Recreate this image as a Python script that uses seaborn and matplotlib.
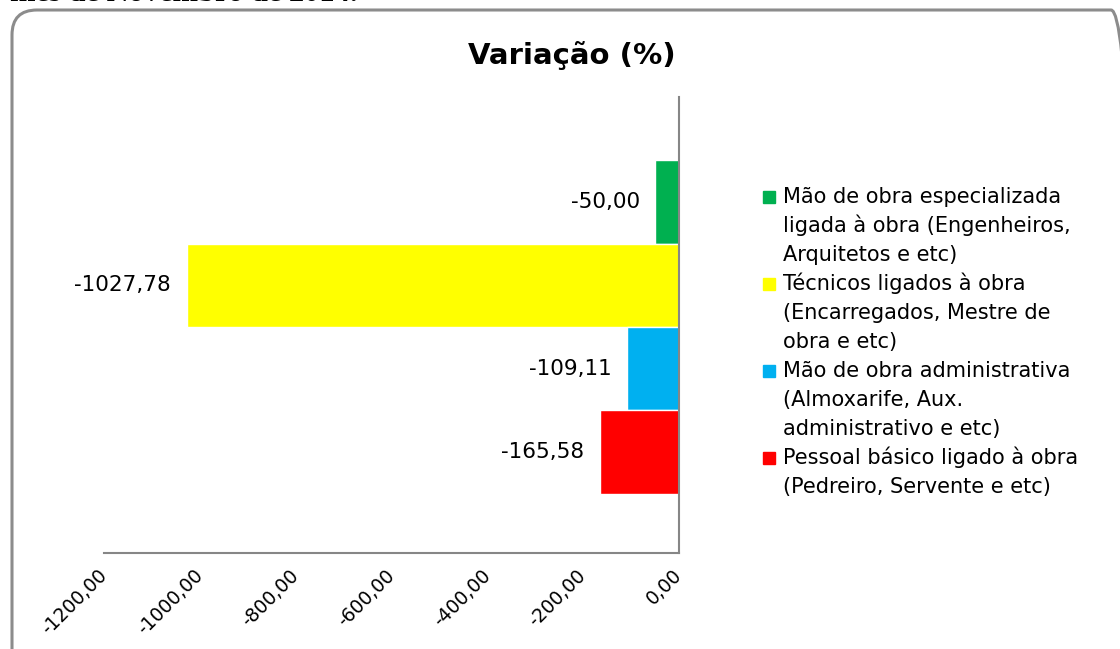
import numpy as np
import pandas as pd
import matplotlib
matplotlib.use("Agg")
import matplotlib.pyplot as plt
import seaborn as sns
from matplotlib.patches import FancyBboxPatch, Rectangle

# ------------------------------------------------------------------
# DATA
# ------------------------------------------------------------------
categories = [
    "Mão de obra especializada\nligada à obra (Engenheiros,\nArquitetos e etc)",
    "Técnicos ligados à obra\n(Encarregados, Mestre de\nobra e etc)",
    "Mão de obra administrativa\n(Almoxarife, Aux.\nadministrativo e etc)",
    "Pessoal básico ligado à obra\n(Pedreiro, Servente e etc)",
]
values = [-50.00, -1027.78, -109.11, -165.58]
colors = ["#00B050", "#FFFF00", "#00B0F0", "#FF0000"]
x_ticks = [-1200, -1000, -800, -600, -400, -200, 0]
title = "Variação (%)"
header_text = "mês de Novembro de 2014."

df = pd.DataFrame({"categoria": categories, "variacao": values})

sns.set_theme(style="white")
plt.rcParams["font.family"] = ["DejaVu Sans"]

fig = plt.figure(figsize=(11.2, 6.49), dpi=100)
W, H = 1120, 649

# rounded outer frame (chart area border), in inches so corners stay round
frame = FancyBboxPatch((0.12, -1.0), 11.24, 6.39 + 1.0,
                       boxstyle="round,pad=0,rounding_size=0.25",
                       transform=fig.dpi_scale_trans, fill=False,
                       edgecolor="#8c8c8c", linewidth=2.2)
fig.patches.append(frame)

# clipped text from the page above the chart
fig.text(10 / W, 1 - 1 / H, header_text, family="Liberation Serif",
         fontsize=22, fontweight="bold", ha="left", va="baseline", color="black")

ax = fig.add_axes([104 / W, 96 / H, 575 / W, 456 / H])
sns.barplot(data=df, y="categoria", x="variacao", hue="categoria",
            palette=colors, orient="h", width=1.0, legend=False, ax=ax,
            saturation=1)

ax.set_xlim(-1200, 0)
ax.set_ylim(4.207, -1.255)
ax.set_xticks(x_ticks)
ax.set_xticklabels([f"{t:.2f}".replace(".", ",") for t in x_ticks],
                   rotation=45, ha="right", va="center", rotation_mode="anchor",
                   fontsize=13.5)
ax.tick_params(axis="x", length=0, pad=14, colors="black")
ax.set_yticks([])
ax.set_xlabel("")
ax.set_ylabel("")
for side in ["top", "left"]:
    ax.spines[side].set_visible(False)
for side in ["bottom", "right"]:
    ax.spines[side].set_color("#868686")
    ax.spines[side].set_linewidth(1.5)

# data labels, outside end of each bar
for i, v in enumerate(values):
    ax.annotate(f"{v:.2f}".replace(".", ","), xy=(v, i), xytext=(-11, 0),
                textcoords="offset points", ha="right", va="center",
                fontsize=15.5, color="black")

fig.text(572 / W, 1 - 55 / H, title, ha="center", va="center",
         fontsize=21, fontweight="bold", color="black")

# legend drawn to match Excel layout (square next to first line)
line_h = 29
y0 = 203
row = 0
for lab, col in zip(categories, colors):
    lines = lab.split("\n")
    base = y0 + row * line_h
    fig.patches.append(Rectangle((763 / W, 1 - base / H), 12 / W, 12 / H,
                                 transform=fig.transFigure, color=col))
    for k, ln in enumerate(lines):
        fig.text(783 / W, 1 - (base + k * line_h) / H, ln, ha="left",
                 va="baseline", fontsize=15, color="black")
    row += len(lines)

fig.savefig("out.png", dpi=100)
plt.close(fig)
